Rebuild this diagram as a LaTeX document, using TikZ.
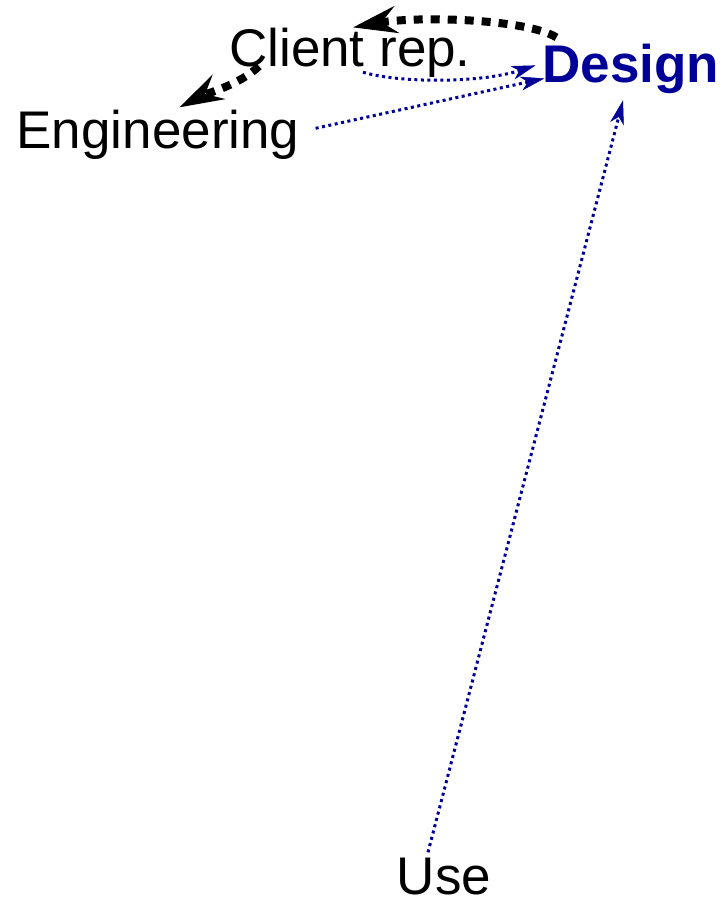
\documentclass[tikz,border=0pt]{standalone}
\usepackage{fontspec}
\setmainfont{Liberation Sans}
\usetikzlibrary{arrows.meta,calc}
\definecolor{dblue}{RGB}{0,0,153}
\tikzset{
  lbl/.style={inner sep=0pt, anchor=base, font=\fontsize{53}{60}\selectfont},
  blk/.style={draw=black, line width=8pt, dash pattern=on 9pt off 8pt,
    -{Stealth[length=44pt,width=27pt,inset=15pt]}},
  blu/.style={draw=dblue, line width=3pt, dash pattern=on 3pt off 3.5pt,
    -{Stealth[length=24pt,width=14pt,inset=7pt,line width=0.5pt]}},
}
\begin{document}
\begin{tikzpicture}[x=1pt,y=-1pt]
\useasboundingbox (0,0) rectangle (726,903);
\node[lbl, text=dblue, font=\fontsize{53}{60}\selectfont\bfseries] (design) at (631,82) {Design};
\node[lbl] (client) at (350,66) {Client rep.};
\node[lbl] (eng) at (158,148) {Engineering};
\node[lbl] (use) at (444,894) {Use};
% black dashed
\draw[blk] ($(design.north west)+(14,-6)$) .. controls ($(design.north west)+(-15,-24)$) and ($(client.north)+(70,-12)$) .. ($(client.north)+(3,0)$);
\draw[blk] ($(client.south west)+(30,-11)$) .. controls ($(client.south west)+(10,8)$) and ($(eng.north west)+(190,-16)$) .. ($(eng.north west)+(163,-2)$);
% blue dotted
\draw[blu] ($(client.south)+(13,-5)$) .. controls ($(client.south)+(50,6)$) and ($(client.south)+(130,6)$) .. ($(design.west)+(-7,-3)$);
\draw[blu] ($(eng.east)+(16,-6)$) -- ($(design.west)+(2,10)$);
\draw[blu] ($(use.north)+(-16,-5)$) -- ($(design.south)+(-8,7)$);
\end{tikzpicture}
\end{document}
